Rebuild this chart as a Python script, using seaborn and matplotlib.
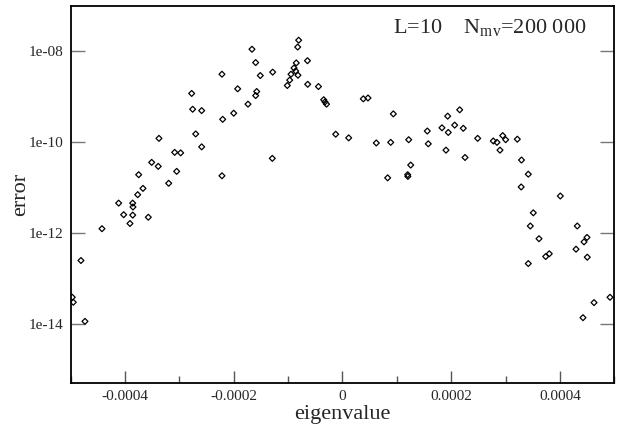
import numpy as np
import pandas as pd
import seaborn as sns
import matplotlib.pyplot as plt
from matplotlib.ticker import FixedLocator, FuncFormatter, NullLocator, MultipleLocator

# eigenvalues (in units of 1e-4) and errors
eig_1e4 = [-4.971, -4.952, -4.811, -4.737, -4.424, -4.117, -4.025, -3.909, -3.859, -3.854,
           -3.859, -3.767, -3.749, -3.670, -3.572, -3.510, -3.389, -3.376, -3.197, -3.087,
           -3.050, -2.977, -2.774, -2.756, -2.700, -2.590, -2.590, -2.217, -2.204, -2.217,
           -2.001, -1.928, -1.738, -1.665, -1.597, -1.578, -1.597, -1.512, -1.284, -1.291,
           -1.015, -0.971, -0.947, -0.892, -0.850, -0.861, -0.819, -0.824, -0.806, -0.644,
           -0.640, -0.442, -0.346, -0.322, -0.294, -0.125, 0.114, 0.383, 0.469, 0.622,
           0.831, 0.887, 0.935, 1.218, 1.255, 1.199, 1.203, 1.560, 1.578, 1.830,
           1.935, 1.946, 2.064, 2.156, 2.222, 1.904, 2.254, 2.487, 2.774, 2.842,
           2.947, 3.002, 2.897, 3.216, 3.293, 3.418, 3.287, 4.007, 3.510, 3.455,
           4.319, 3.615, 4.498, 4.443, 4.296, 3.738, 3.804, 4.503, 3.418, 4.921,
           4.627, 4.424]
error = [3.8e-14, 2.95e-14, 2.45e-13, 1.12e-14, 1.23e-12, 4.5e-12, 2.5e-12, 1.6e-12, 4.5e-12, 3.7e-12,
         2.45e-12, 6.9e-12, 1.9e-11, 9.5e-12, 2.2e-12, 3.55e-11, 2.9e-11, 1.2e-10, 1.23e-11, 5.9e-11,
         2.25e-11, 5.75e-11, 1.17e-9, 5.25e-10, 1.5e-10, 4.9e-10, 7.8e-11, 3.1e-9, 3.15e-10, 1.8e-11,
         4.3e-10, 1.48e-9, 6.8e-10, 1.1e-8, 5.6e-9, 1.29e-9, 1.05e-9, 2.9e-9, 3.45e-9, 4.35e-11,
         1.75e-9, 2.3e-9, 3.1e-9, 4.25e-9, 5.5e-9, 3.65e-9, 2.95e-9, 1.23e-8, 1.74e-8, 6.15e-9,
         1.86e-9, 1.66e-9, 8.5e-10, 7.6e-10, 6.8e-10, 1.48e-10, 1.23e-10, 8.9e-10, 9.3e-10, 9.5e-11,
         1.62e-11, 9.8e-11, 4.15e-10, 1.12e-10, 3.1e-11, 1.9e-11, 1.74e-11, 1.74e-10, 9.1e-11, 2.05e-10,
         3.7e-10, 1.62e-10, 2.35e-10, 5.1e-10, 2.0e-10, 6.6e-11, 4.55e-11, 1.2e-10, 1.05e-10, 9.8e-11,
         1.38e-10, 1.12e-10, 6.6e-11, 1.15e-10, 4.0e-11, 1.95e-11, 1.02e-11, 6.45e-12, 2.75e-12, 1.41e-12,
         1.41e-12, 7.4e-13, 7.9e-13, 6.3e-13, 4.35e-13, 3.0e-13, 3.45e-13, 2.9e-13, 2.1e-13, 3.8e-14,
         2.9e-14, 1.35e-14]

x_ticks = [-0.0004, -0.0002, 0.0, 0.0002, 0.0004]
y_ticks = [1e-14, 1e-12, 1e-10, 1e-8]

df = pd.DataFrame({'eigenvalue': np.array(eig_1e4) * 1e-4, 'error': error})

sns.set_theme(style='ticks')
plt.rcParams['font.family'] = ['Liberation Serif', 'DejaVu Serif']
plt.rcParams['mathtext.fontset'] = 'custom'
plt.rcParams['mathtext.rm'] = 'Liberation Serif'
plt.rcParams['axes.unicode_minus'] = False

fig = plt.figure(figsize=(6.21, 4.33), dpi=100)
ax = fig.add_axes([0.1138, 0.1162, 0.8754, 0.8706])

sns.scatterplot(data=df, x='eigenvalue', y='error', marker='D', s=9,
                facecolors='none', edgecolor='black', linewidth=0.9, ax=ax)

ax.set_yscale('log')
ax.set_xlim(-0.0005, 0.0005)
ax.set_ylim(5e-16, 1e-7)

ax.xaxis.set_major_locator(FixedLocator(x_ticks))
ax.xaxis.set_minor_locator(MultipleLocator(0.0001))
ax.xaxis.set_major_formatter(FuncFormatter(lambda v, p: '%g' % v if abs(v) > 1e-12 else '0'))
ax.yaxis.set_major_locator(FixedLocator(y_ticks))
ax.yaxis.set_minor_locator(NullLocator())
ax.yaxis.set_major_formatter(FuncFormatter(lambda v, p: '%.0e' % v))

ax.tick_params(axis='x', which='major', direction='in', length=9, width=1, color='#555555',
               labelsize=11, pad=5, top=False)
ax.tick_params(axis='x', which='minor', direction='in', length=5, width=1, color='#555555', top=False)
ax.tick_params(axis='y', which='major', direction='in', length=10, width=1, color='#777777',
               labelsize=11, pad=5, right=True)

for sp in ax.spines.values():
    sp.set_color('black')
    sp.set_linewidth(1.3)

ax.set_xlabel('eigenvalue', fontsize=16, labelpad=2)
ax.set_ylabel('error', fontsize=16, labelpad=-1)

ax.text(0.593, 0.9276, r'L=10    N$_\mathrm{mv}$=200 000', transform=ax.transAxes,
        fontsize=16, ha='left', va='baseline')

fig.savefig('out.png', dpi=100)
